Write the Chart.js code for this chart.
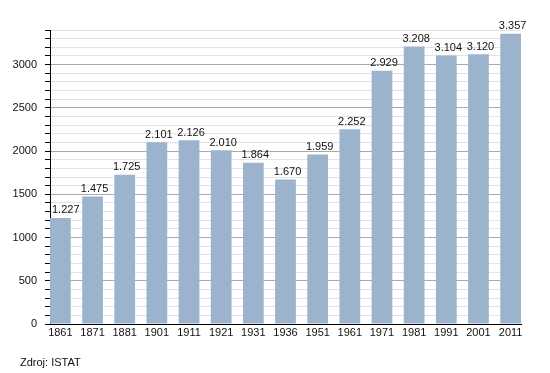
<!DOCTYPE html>
<html>
<head>
<meta charset="utf-8">
<script src="https://cdn.jsdelivr.net/npm/chart.js@4"></script>
<style>
  html, body { margin: 0; padding: 0; background: #fff; }
  #wrap { width: 550px; height: 373px; }
</style>
</head>
<body>
<div id="wrap"><canvas id="chart"></canvas></div>
<script>
const years = ["1861", "1871", "1881", "1901", "1911", "1921", "1931", "1936", "1951", "1961", "1971", "1981", "1991", "2001", "2011"];
const population = [1227, 1475, 1725, 2101, 2126, 2010, 1864, 1670, 1959, 2252, 2929, 3208, 3104, 3120, 3357];
const sourceText = "Zdroj: ISTAT";

const FONT = "'Liberation Sans', Arial, sans-serif";

// thousands with a dot, like 1.227
function fmt(v) {
  return String(v).replace(/\B(?=(\d{3})+(?!\d))/g, ".");
}

// value labels above bars + source line
const labelsPlugin = {
  id: "barLabels",
  afterDatasetsDraw(chart) {
    const ctx = chart.ctx;
    const meta = chart.getDatasetMeta(0);
    ctx.save();
    ctx.font = "11px " + FONT;
    ctx.fillStyle = "#111";
    ctx.textAlign = "center";
    ctx.textBaseline = "bottom";
    meta.data.forEach((bar, i) => {
      const txt = fmt(population[i]);
      const w = ctx.measureText(txt).width;
      const x = Math.max(bar.x + 2, chart.chartArea.left + w / 2 + 2);
      ctx.fillText(txt, x, bar.y - 2);
    });
    ctx.textAlign = "left";
    ctx.textBaseline = "alphabetic";
    ctx.fillText(sourceText, 20, 366);
    ctx.restore();
  }
};

const half = 0.3225;

new Chart(document.getElementById("chart"), {
  type: "bar",
  data: {
    datasets: [{
      data: population.map((v, i) => ({ x: i, y: v })),
      backgroundColor: "#9bb3cd",
      borderWidth: 0,
      barPercentage: 0.645,
      categoryPercentage: 1
    }]
  },
  options: {
    responsive: true,
    maintainAspectRatio: false,
    animation: false,
    layout: { padding: { top: 30, right: 29, left: 0, bottom: 0 } },
    plugins: {
      legend: { display: false },
      tooltip: { enabled: false }
    },
    scales: {
      x: {
        type: "linear",
        offset: false,
        min: -half,
        max: years.length - 1 + half,
        grid: { display: false, drawTicks: false, tickLength: 0 },
        border: { display: true, color: "#000", width: 1 },
        ticks: {
          padding: 2,
          autoSkip: false,
          maxRotation: 0,
          color: "#111",
          font: { family: FONT, size: 11 },
          callback: (v) => years[v]
        },
        afterBuildTicks(scale) {
          scale.ticks = years.map((y, i) => ({ value: i }));
        },
        afterFit(scale) { scale.height = 49; }
      },
      y: {
        min: 0,
        max: 3400,
        grid: {
          color: (c) => (c.tick && c.tick.value % 500 === 0) ? "#aaaaaa" : "#e2e2e2",
          tickColor: "#000",
          tickLength: 5
        },
        border: { display: true, color: "#000", width: 1 },
        ticks: {
          stepSize: 100,
          autoSkip: false,
          padding: 8,
          color: "#111",
          font: { family: FONT, size: 11 },
          callback: (v) => v % 500 === 0 ? v : ""
        },
        afterFit(scale) { scale.width = 50; }
      }
    }
  },
  plugins: [labelsPlugin]
});
</script>
</body>
</html>
